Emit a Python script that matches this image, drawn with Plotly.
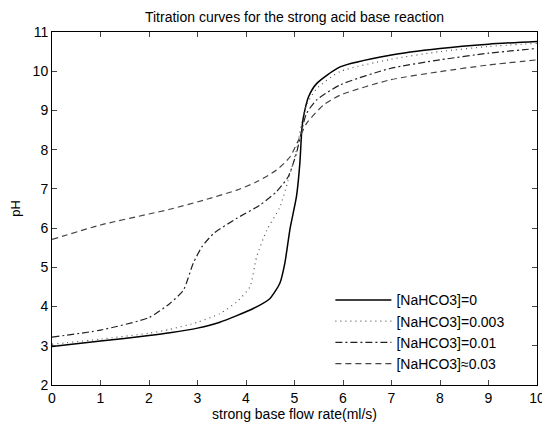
import plotly.graph_objects as go

# Data
x_c0 = [0, 1, 2, 2.43, 3, 3.46, 4.15, 4.49, 4.7, 4.8, 4.91, 5.04, 5.11, 5.15, 5.18, 5.29, 5.46, 5.94, 6.97, 8, 9, 10]
ph_c0 = [2.98, 3.12, 3.26, 3.33, 3.45, 3.6, 3.95, 4.2, 4.6, 5.1, 6.0, 6.8, 7.65, 8.5, 8.8, 9.35, 9.69, 10.11, 10.41, 10.58, 10.69, 10.76]

x_c1 = [0, 1, 2, 2.43, 3, 3.46, 3.81, 4.08, 4.22, 4.43, 4.7, 4.87, 5.04, 5.15, 5.25, 5.46, 5.94, 6.97, 8, 9, 10]
ph_c1 = [3.04, 3.17, 3.32, 3.42, 3.6, 3.82, 4.12, 4.5, 5.27, 5.95, 6.54, 7.22, 7.99, 8.7, 9.15, 9.56, 9.99, 10.30, 10.5, 10.63, 10.71]

x_c2 = [0, 1, 2, 2.43, 2.71, 2.91, 3.09, 3.33, 3.81, 4.29, 4.63, 4.87, 5.04, 5.15, 5.25, 5.46, 5.94, 6.97, 8, 9, 10]
ph_c2 = [3.22, 3.4, 3.72, 4.08, 4.42, 5.1, 5.52, 5.86, 6.25, 6.59, 6.93, 7.31, 7.91, 8.5, 8.93, 9.27, 9.65, 10.07, 10.29, 10.46, 10.58]

x_c3 = [0, 1, 2, 2.43, 3.12, 3.81, 4.22, 4.63, 4.91, 5.08, 5.25, 5.6, 5.94, 6.97, 8, 9, 10]
ph_c3 = [5.71, 6.08, 6.36, 6.48, 6.71, 6.97, 7.18, 7.48, 7.82, 8.24, 8.67, 9.14, 9.39, 9.78, 9.99, 10.16, 10.29]

names = ["[NaHCO3]=0", "[NaHCO3]=0.003", "[NaHCO3]=0.01", "[NaHCO3]≈0.03"]
x_ticks = list(range(0, 11))
y_ticks = list(range(2, 12))

series = [(x_c0, ph_c0), (x_c1, ph_c1), (x_c2, ph_c2), (x_c3, ph_c3)]
styles = [
    dict(color="#000000", width=1.5, dash="solid"),
    dict(color="#555555", width=1.2, dash="1px,4px"),
    dict(color="#222222", width=1.2, dash="7px,3px,2px,3px"),
    dict(color="#444444", width=1.2, dash="6px,4px"),
]

fig = go.Figure()
for (xs, ys), nm, st in zip(series, names, styles):
    fig.add_trace(go.Scatter(x=xs, y=ys, mode="lines", name=nm,
                             line=dict(shape="spline", smoothing=0.6, **st)))

font = "Liberation Sans, Arial, sans-serif"
# page body adds an 8px offset (left/top), so the figure is 542x416 to fill 550x424
fig.update_layout(
    width=542, height=416,
    margin=dict(l=44, r=13, t=24, b=39),
    paper_bgcolor="white", plot_bgcolor="white",
    font=dict(family=font, size=13, color="black"),
    title=dict(text="Titration curves for the strong acid base reaction",
               x=0.5, xref="paper", y=0.979, yref="container", yanchor="middle",
               font=dict(size=14)),
    showlegend=True,
    legend=dict(x=0.574, y=0.285, xanchor="left", yanchor="top",
                bgcolor="rgba(0,0,0,0)", borderwidth=0, itemwidth=56,
                font=dict(size=14), tracegroupgap=0),
    xaxis=dict(range=[0, 10], tickvals=x_ticks, ticks="inside", ticklen=5,
               showline=True, linecolor="black", linewidth=1, mirror="ticks",
               showgrid=False, zeroline=False, tickfont=dict(size=14),
               automargin=False,
               title=dict(text="strong base flow rate(ml/s)", standoff=4,
                          font=dict(size=14))),
    yaxis=dict(range=[2, 11], tickvals=y_ticks, ticks="inside", ticklen=5,
               showline=True, linecolor="black", linewidth=1, mirror="ticks",
               showgrid=False, zeroline=False, tickfont=dict(size=14),
               automargin=False,
               title=dict(text="pH", standoff=12, font=dict(size=13))),
)

fig.write_html("out.html")
